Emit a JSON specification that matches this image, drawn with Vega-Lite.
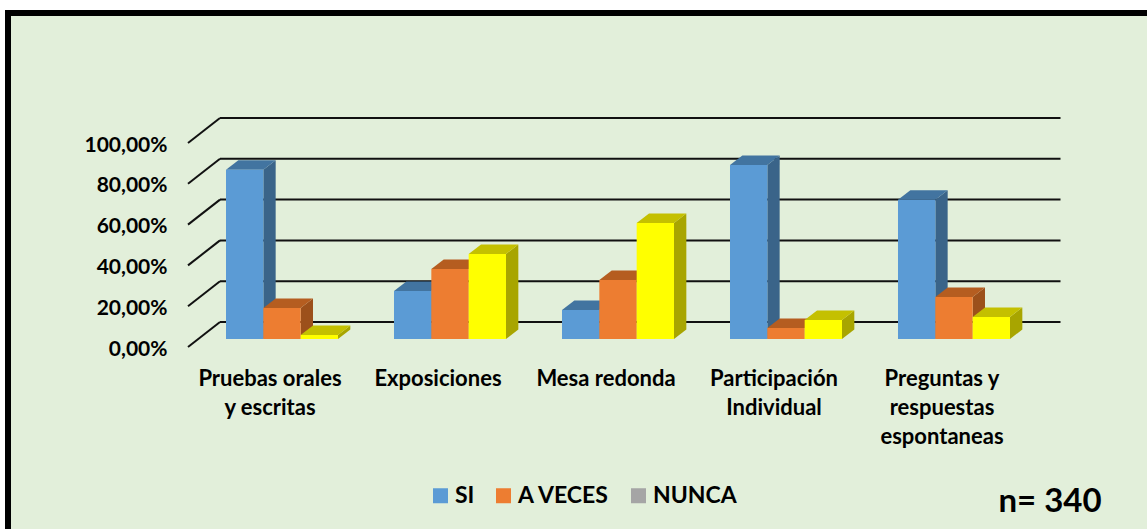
{
"$schema":"https://vega.github.io/schema/vega-lite/v6.json",
"autosize":{"type":"none"},
"width":840,"height":204,
"padding":{"left":198,"top":135,"right":109,"bottom":190},
"background":"#FFFFFF",
"config":{"view":{"stroke":null},"font":"Lato"},
"datasets":{
"bars":[
{"cat":"Pruebas orales y escritas","serie":"SI","v":83},
{"cat":"Pruebas orales y escritas","serie":"A VECES","v":15.2},
{"cat":"Pruebas orales y escritas","serie":"NUNCA","v":2},
{"cat":"Exposiciones","serie":"SI","v":23.5},
{"cat":"Exposiciones","serie":"A VECES","v":34.3},
{"cat":"Exposiciones","serie":"NUNCA","v":41.7},
{"cat":"Mesa redonda","serie":"SI","v":14.2},
{"cat":"Mesa redonda","serie":"A VECES","v":28.9},
{"cat":"Mesa redonda","serie":"NUNCA","v":56.9},
{"cat":"Participación Individual","serie":"SI","v":85.3},
{"cat":"Participación Individual","serie":"A VECES","v":5.4},
{"cat":"Participación Individual","serie":"NUNCA","v":9.3},
{"cat":"Preguntas y respuestas espontaneas","serie":"SI","v":68.2},
{"cat":"Preguntas y respuestas espontaneas","serie":"A VECES","v":20.6},
{"cat":"Preguntas y respuestas espontaneas","serie":"NUNCA","v":10.8}
],
"ticks":[{"t":0},{"t":20},{"t":40},{"t":60},{"t":80},{"t":100}]
},
"resolve":{"scale":{"color":"independent"}},
"layer":[
{"data":{"values":[{}]},
 "mark":{"type":"rect","fill":"#E2EFDA","stroke":"#000000","strokeWidth":6},
 "encoding":{"x":{"value":-190},"x2":{"value":968},"y":{"value":-122},"y2":{"value":404}}},
{"data":{"name":"ticks"},
 "mark":{"type":"rule","stroke":"#111111","strokeWidth":2,"yOffset":-17},
 "encoding":{"x":{"value":22},"x2":{"value":862.5},"y":{"field":"t","type":"quantitative","scale":{"domain":[0,100]},"axis":{"zindex":1,"values":[0,20,40,60,80,100],"title":null,"domain":false,"ticks":false,"grid":false,"labelExpr":"replace(format(datum.value,'.2f'),'.',',')+'%'","labelFont":"Lato","labelFontWeight":"bold","labelFontSize":21,"labelColor":"#000000","labelPadding":31,"labelOffset":10}}}},
{"data":{"name":"ticks"},
 "mark":{"type":"point","filled":false,"stroke":"#111111","strokeWidth":2,"size":4,"opacity":1,"yOffset":8,"shape":"M0,0L32,-25"},
 "encoding":{"x":{"value":-10},"y":{"field":"t","type":"quantitative"}}},
{"data":{"name":"bars"},
 "mark":{"type":"point","filled":true,"size":4,"opacity":1,"strokeWidth":0,"shape":{"expr":"'M18.67,0L31,-9.5L31,'+(2.04*datum.v-9.5)+'L18.67,'+(2.04*datum.v)+'Z'"}},
 "encoding":{
  "x":{"field":"cat","type":"nominal","sort":["Pruebas orales y escritas","Exposiciones","Mesa redonda","Participación Individual","Preguntas y respuestas espontaneas"]},
  "xOffset":{"field":"serie","type":"nominal","sort":["SI","A VECES","NUNCA"]},
  "y":{"field":"v","type":"quantitative"},
  "color":{"field":"serie","type":"nominal","legend":null,"scale":{"domain":["SI","A VECES","NUNCA"],"range":["#3A6489","#9C501B","#A8A500"]}}}},
{"data":{"name":"bars"},
 "mark":{"type":"point","filled":true,"size":4,"opacity":1,"strokeWidth":0,"shape":"M-18.67,0L-6.3,-9.5L31,-9.5L18.67,0Z"},
 "encoding":{
  "x":{"field":"cat","type":"nominal","sort":["Pruebas orales y escritas","Exposiciones","Mesa redonda","Participación Individual","Preguntas y respuestas espontaneas"]},
  "xOffset":{"field":"serie","type":"nominal","sort":["SI","A VECES","NUNCA"]},
  "y":{"field":"v","type":"quantitative"},
  "color":{"field":"serie","type":"nominal","legend":null,"scale":{"domain":["SI","A VECES","NUNCA"],"range":["#4274A0","#B55D20","#C4C000"]}}}},
{"data":{"name":"bars"},
 "mark":{"type":"bar"},
 "encoding":{
  "x":{"field":"cat","type":"nominal","sort":["Pruebas orales y escritas","Exposiciones","Mesa redonda","Participación Individual","Preguntas y respuestas espontaneas"],"title":null,
    "scale":{"paddingInner":0.3333,"paddingOuter":0.16667},
    "axis":{"zindex":1,"title":null,"domain":false,"ticks":false,"grid":false,"labelAngle":0,"labelAlign":"center","labelFont":"Lato","labelFontWeight":"bold","labelFontSize":22,"labelColor":"#000000","labelPadding":39,"labelOffset":-12,"labelLineHeight":29,"labelLimit":0,"labelOverlap":false,"labelBound":false,"labelFlush":false,
      "labelExpr":"{'Pruebas orales y escritas':['Pruebas orales','y escritas'],'Participación Individual':['Participación','Individual'],'Preguntas y respuestas espontaneas':['Preguntas y','respuestas','espontaneas']}[datum.label]||datum.label"}},
  "xOffset":{"field":"serie","type":"nominal","sort":["SI","A VECES","NUNCA"]},
  "y":{"field":"v","type":"quantitative","stack":null},
  "color":{"condition":{"test":"datum.serie==='NUNCA'","value":"#FFFF00"},"field":"serie","type":"nominal",
    "scale":{"domain":["SI","A VECES","NUNCA"],"range":["#5B9BD5","#ED7D31","#A5A5A5"]},
    "legend":{"title":null,"orient":"none","legendX":231,"legendY":349,"direction":"horizontal","columns":3,"symbolType":"square","symbolSize":225,"symbolStrokeWidth":0,"labelFont":"Lato","labelFontWeight":"bold","labelFontSize":23,"labelColor":"#000000","columnPadding":17,"labelOffset":3}}}},
{"data":{"values":[{"nota":"n= 340"}]},
 "mark":{"type":"text","font":"Lato","fontWeight":"bold","fontSize":33,"align":"center","baseline":"alphabetic","color":"#000000"},
 "encoding":{"text":{"field":"nota"},"x":{"value":852},"y":{"value":377}}}
]
}
